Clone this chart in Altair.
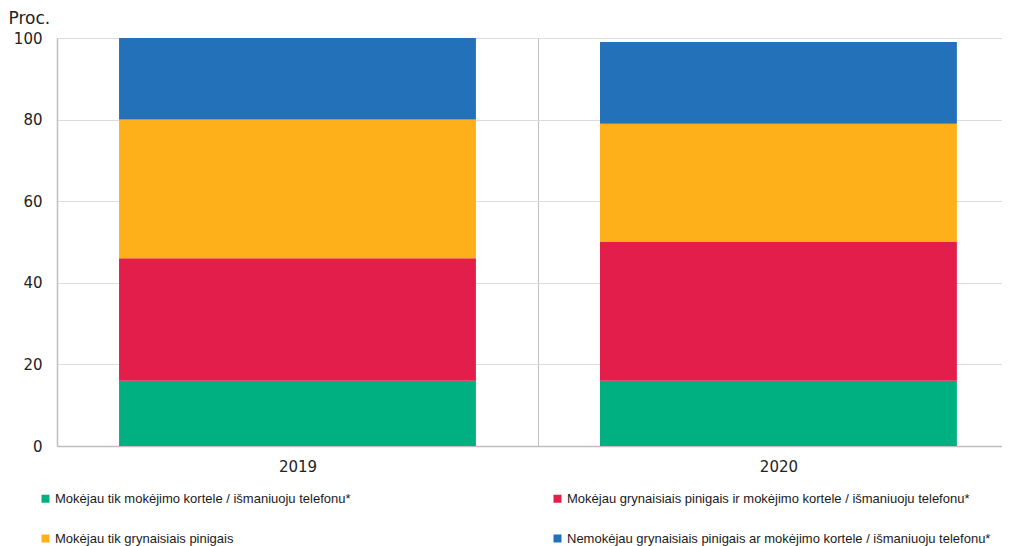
import altair as alt
import pandas as pd

years = ["2019", "2020"]
categories = [
    "Mokėjau tik mokėjimo kortele / išmaniuoju telefonu*",
    "Mokėjau grynaisiais pinigais ir mokėjimo kortele / išmaniuoju telefonu*",
    "Mokėjau tik grynaisiais pinigais",
    "Nemokėjau  grynaisiais pinigais ar mokėjimo kortele / išmaniuoju telefonu*",
]
colors = ["#00B080", "#E31E4A", "#FDB019", "#2371B9"]
values_2019 = [16, 30, 34, 20]
values_2020 = [16, 34, 29, 20]

rows = []
for y, vals in zip(years, [values_2019, values_2020]):
    for i, (c, v) in enumerate(zip(categories, vals)):
        rows.append({"year": y, "cat": c, "value": v, "ord": i})
df = pd.DataFrame(rows)

chart = alt.Chart(df).mark_bar().encode(
    x=alt.X(
        "year:N",
        sort=years,
        title=None,
        scale=alt.Scale(paddingInner=0.258, paddingOuter=0.1114, align=0.579),
        axis=alt.Axis(
            labelAngle=0,
            labelFont="DejaVu Sans",
            labelFontSize=15,
            labelColor="#222222",
            labelPadding=13,
            ticks=False,
            grid=True,
            gridColor="#c0c0c0",
            gridWidth=1,
            tickOffset=-240.5,
            labelOffset=240.5,
            domainColor="#bfbfbf",
            domainWidth=1.5,
        ),
    ),
    y=alt.Y(
        "value:Q",
        stack="zero",
        scale=alt.Scale(domain=[0, 100], nice=False),
        axis=alt.Axis(
            values=[0, 20, 40, 60, 80, 100],
            title="Proc.",
            titleAngle=0,
            titleAlign="left",
            titleBaseline="middle",
            titleX=-49,
            titleY=-20,
            titleFont="DejaVu Sans",
            titleFontSize=17,
            titleFontWeight="normal",
            titleColor="#222222",
            labelFont="DejaVu Sans",
            labelFontSize=15,
            labelColor="#222222",
            labelPadding=15,
            ticks=False,
            gridColor="#dcdcdc",
            gridWidth=1.2,
            domainColor="#bfbfbf",
            domainWidth=1.5,
        ),
    ),
    color=alt.Color(
        "cat:N",
        sort=categories,
        scale=alt.Scale(domain=categories, range=colors),
        legend=alt.Legend(
            title=None,
            orient="none",
            legendX=-18,
            legendY=454,
            columns=2,
            direction="horizontal",
            symbolType="square",
            symbolSize=64,
            symbolStrokeWidth=0,
            labelFont="Liberation Sans",
            labelFontSize=13,
            labelColor="#1a1a1a",
            labelOffset=3,
            labelLimit=600,
            columnPadding=200,
            rowPadding=26,
        ),
    ),
    order=alt.Order("ord:Q", sort="ascending"),
).properties(
    width=945,
    height=408,
    padding={"left": 49, "top": 30, "right": 0, "bottom": 100},
    autosize=alt.AutoSizeParams(type="none"),
).configure_view(stroke=None)

chart.save("out.html", embed_options={"renderer": "svg", "actions": False})
